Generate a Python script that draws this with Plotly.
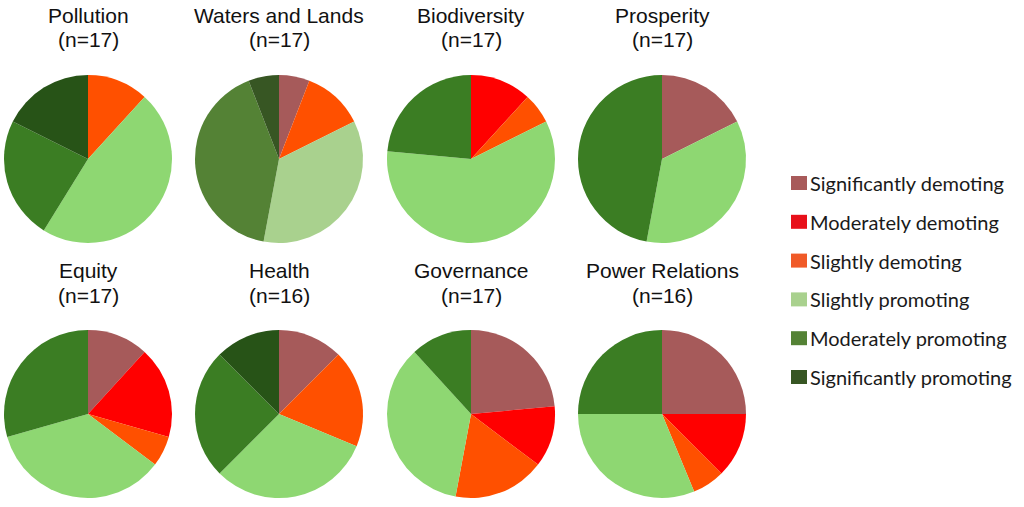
import plotly.graph_objects as go

categories = ["Significantly demoting", "Moderately demoting", "Slightly demoting",
              "Slightly promoting", "Moderately promoting", "Significantly promoting"]

titles = ["Pollution", "Waters and Lands", "Biodiversity", "Prosperity",
          "Equity", "Health", "Governance", "Power Relations"]
n_labels = ["(n=17)", "(n=17)", "(n=17)", "(n=17)", "(n=17)", "(n=16)", "(n=17)", "(n=16)"]

pollution = [0, 0, 2, 8, 4, 3]
waters_lands = [1, 0, 2, 6, 7, 1]
biodiversity = [0, 2, 1, 10, 4, 0]
prosperity = [3, 0, 0, 6, 8, 0]
equity = [2, 3, 1, 6, 5, 0]
health = [2, 0, 3, 5, 4, 2]
governance = [4, 2, 3, 6, 2, 0]
power_relations = [4, 2, 1, 5, 4, 0]

series = [pollution, waters_lands, biodiversity, prosperity,
          equity, health, governance, power_relations]

main_colors = ["#a65a5a", "#ff0000", "#ff5000", "#8ed772", "#3b7d23", "#275317"]
waters_colors = ["#a65a5a", "#ff0000", "#ff5000", "#a9d18e", "#548235", "#375623"]
legend_colors = ["#a85a5a", "#e8101a", "#f05a28", "#a9d18e", "#548235", "#375623"]

W, H = 1024, 507
centers_x = [88, 279, 471, 662]
centers_y = [159, 414]
R = 84

fig = go.Figure()
annotations = []
shapes = []
for i, (vals, title, nl) in enumerate(zip(series, titles, n_labels)):
    col = i % 4
    row = i // 4
    cx, cy = centers_x[col], centers_y[row]
    colors = waters_colors if title == "Waters and Lands" else main_colors
    fig.add_trace(go.Pie(
        labels=categories, values=vals, sort=False, direction="clockwise",
        rotation=0, textinfo="none", hoverinfo="label+value",
        marker=dict(colors=colors, line=dict(width=0)),
        showlegend=False,
        domain=dict(x=[(cx - R) / W, (cx + R) / W],
                    y=[1 - (cy + R) / H, 1 - (cy - R) / H]),
    ))
    ty1 = cy - 144
    ty2 = cy - 119
    annotations.append(dict(x=cx / W, y=1 - ty1 / H, xref="paper", yref="paper",
                            text=title, showarrow=False, xanchor="center", yanchor="middle",
                            font=dict(family="Liberation Sans, Arial", size=21, color="#111")))
    annotations.append(dict(x=cx / W, y=1 - ty2 / H, xref="paper", yref="paper",
                            text=nl, showarrow=False, xanchor="center", yanchor="middle",
                            font=dict(family="Liberation Sans, Arial", size=21, color="#111")))

legend_y0 = 183
legend_dy = 38.8
for k, (cat, c) in enumerate(zip(categories, legend_colors)):
    yc = legend_y0 + k * legend_dy
    shapes.append(dict(type="rect", xref="paper", yref="paper",
                       x0=791 / W, x1=807 / W, y0=1 - (yc + 7) / H, y1=1 - (yc - 7) / H,
                       fillcolor=c, line=dict(width=0)))
    annotations.append(dict(x=808 / W, y=1 - yc / H, xref="paper", yref="paper",
                            text=cat, showarrow=False, xanchor="left", yanchor="middle",
                            font=dict(family="Lato", size=20, color="#1a1a1a")))

fig.update_layout(width=W, height=H, margin=dict(l=0, r=0, t=0, b=0),
                  paper_bgcolor="white", plot_bgcolor="white",
                  annotations=annotations, shapes=shapes)
fig.write_html("out.html")
